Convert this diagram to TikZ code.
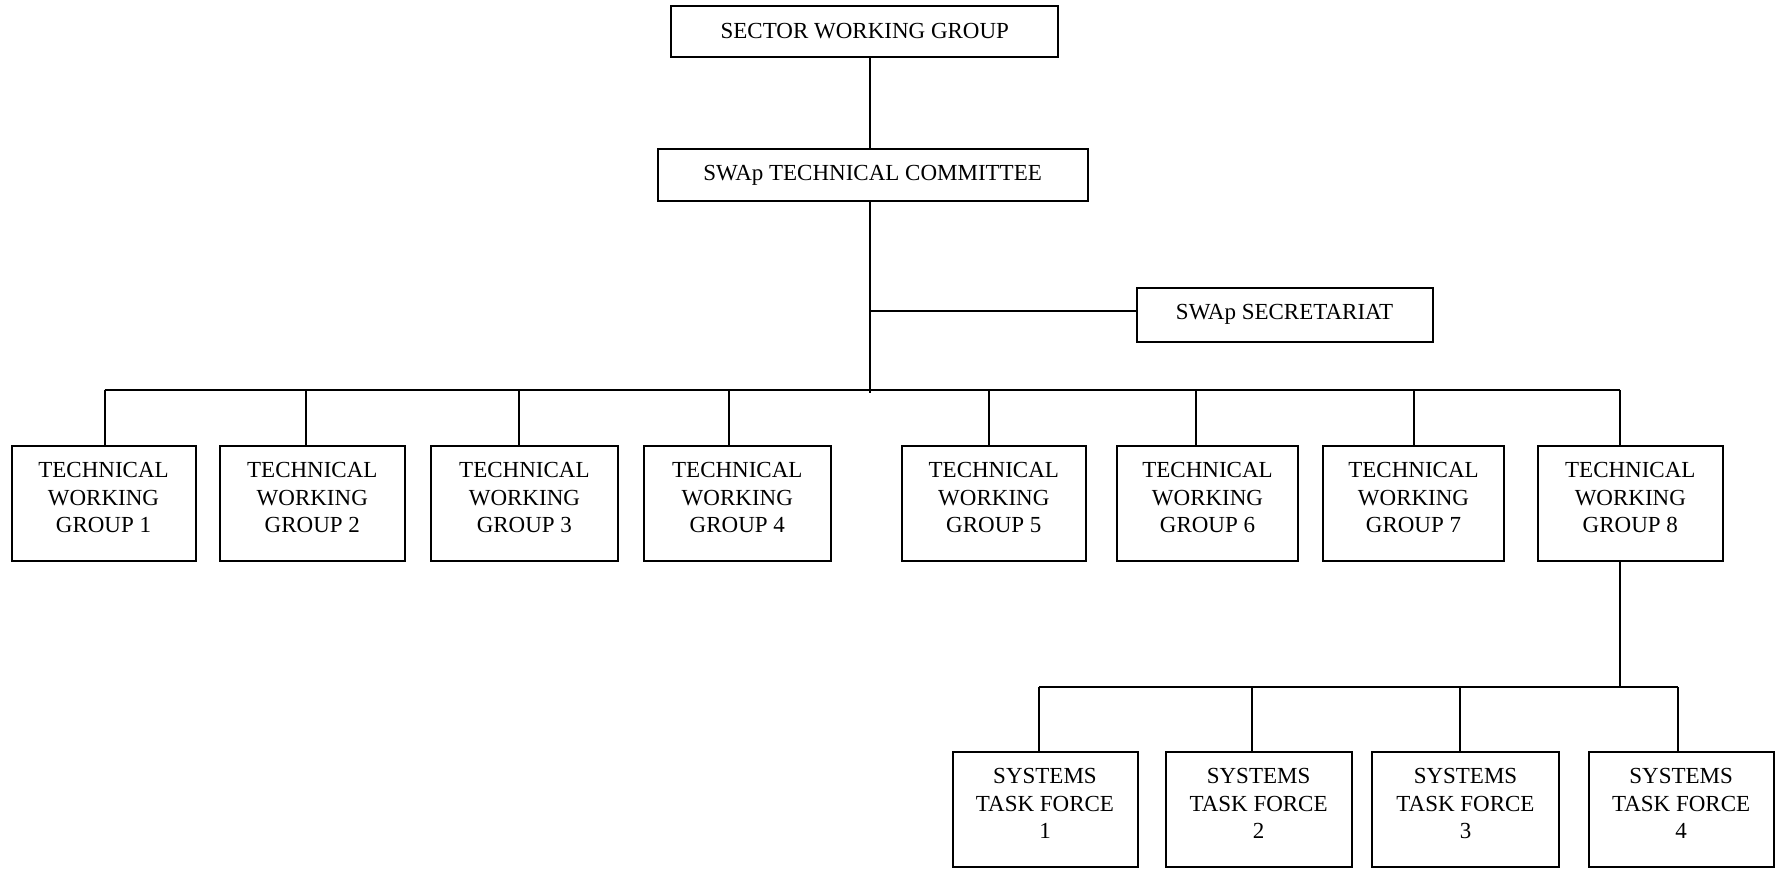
\documentclass[tikz,border=0pt]{standalone}
\usepackage{fontspec}
\setmainfont{Liberation Serif}
\begin{document}
\begin{tikzpicture}[x=1pt,y=-1pt,
  every node/.style={font=\fontsize{23}{27.3}\selectfont},
  unit/.style={draw=black, line width=2pt, inner sep=0pt, align=center},
  tall/.style={unit, minimum height=115pt, text depth=12pt},
  conn/.style={line width=2pt}]
\useasboundingbox (0,0) rectangle (1784,868);

% top of the chart
\node[unit, minimum width=387pt, minimum height=51pt] (swg) at (864.8,31.3) {SECTOR WORKING GROUP};
\node[unit, minimum width=430pt, minimum height=52pt] (tc) at (872.6,175.2) {SWAp TECHNICAL COMMITTEE};
\node[unit, minimum width=296pt, minimum height=54pt] (sec) at (1284.6,314.5) {SWAp SECRETARIAT};

% technical working groups
\node[tall, minimum width=184pt] (g1) at (103.5,503.5) {TECHNICAL\\WORKING\\GROUP 1};
\node[tall, minimum width=185pt] (g2) at (312.3,503.5) {TECHNICAL\\WORKING\\GROUP 2};
\node[tall, minimum width=187pt] (g3) at (524.4,503.5) {TECHNICAL\\WORKING\\GROUP 3};
\node[tall, minimum width=187pt] (g4) at (737.3,503.5) {TECHNICAL\\WORKING\\GROUP 4};
\node[tall, minimum width=184pt] (g5) at (993.8,503.5) {TECHNICAL\\WORKING\\GROUP 5};
\node[tall, minimum width=181pt] (g6) at (1207.5,503.5) {TECHNICAL\\WORKING\\GROUP 6};
\node[tall, minimum width=181pt] (g7) at (1413.5,503.5) {TECHNICAL\\WORKING\\GROUP 7};
\node[tall, minimum width=185pt] (g8) at (1630.3,503.5) {TECHNICAL\\WORKING\\GROUP 8};

% systems task forces
\node[tall, minimum width=185pt] (f1) at (1045,809.5) {SYSTEMS\\TASK FORCE\\1};
\node[tall, minimum width=186pt] (f2) at (1258.6,809.5) {SYSTEMS\\TASK FORCE\\2};
\node[tall, minimum width=187pt] (f3) at (1465.5,809.5) {SYSTEMS\\TASK FORCE\\3};
\node[tall, minimum width=185pt] (f4) at (1681.1,809.5) {SYSTEMS\\TASK FORCE\\4};

% bus points
\coordinate (trunk) at (870.4,390.3);
\coordinate (br) at (870.4,311);
\coordinate (d1) at (104.7,390.3);
\coordinate (d2) at (306,390.3);
\coordinate (d3) at (518.8,390.3);
\coordinate (d4) at (729.3,390.3);
\coordinate (d5) at (988.7,390.3);
\coordinate (d6) at (1195.8,390.3);
\coordinate (d7) at (1414.3,390.3);
\coordinate (d8) at (1620.2,390.3);
\coordinate (sb) at (1620.2,687.2);
\coordinate (s1) at (1038.8,687.2);
\coordinate (s2) at (1251.6,687.2);
\coordinate (s3) at (1459.8,687.2);
\coordinate (s4) at (1678.2,687.2);

% connectors
\draw[conn] (swg.south -| trunk) -- (tc.north -| trunk);
\draw[conn] (tc.south -| trunk) -- ([yshift=-3pt]trunk);
\draw[conn] (br) -- (br -| sec.west);
\draw[conn] (d1) -- (d8);
\foreach \i in {1,...,8} \draw[conn] (d\i) -- (d\i |- g\i.north);
\draw[conn] (g8.south -| sb) -- (sb);
\draw[conn] (s1) -- (s4);
\foreach \i in {1,...,4} \draw[conn] (s\i) -- (s\i |- f\i.north);
\end{tikzpicture}
\end{document}
